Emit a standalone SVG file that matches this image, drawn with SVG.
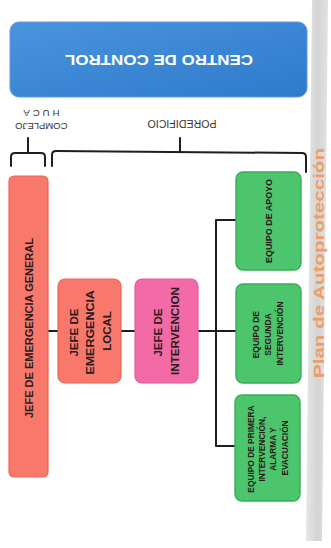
<svg xmlns="http://www.w3.org/2000/svg" width="331" height="548" viewBox="0 0 331 548">
  <style>
    .nt{font-family:"Liberation Sans",Arial,sans-serif;font-weight:bold;fill:#2b1b1b;text-anchor:middle}
    .lbl{font-family:"Liberation Sans",Arial,sans-serif;fill:#333;text-anchor:middle}
    .line{fill:none;stroke:#1e1e1e;stroke-width:2;stroke-linecap:round;stroke-linejoin:round}
    .red{fill:#f8786b;stroke:#ec6757;stroke-width:1.2}
    .pink{fill:#f26aa6;stroke:#e45b98;stroke-width:1.2}
    .green{fill:#4cc56d;stroke:#36ad56;stroke-width:1.4}
  </style>
  <defs>
    <linearGradient id="blueg" x1="0" y1="0" x2="1" y2="1">
      <stop offset="0" stop-color="#4b93dd"/>
      <stop offset="1" stop-color="#2d7bcc"/>
    </linearGradient>
    <linearGradient id="greyg" x1="0" y1="0" x2="1" y2="0">
      <stop offset="0" stop-color="#e6e6e6"/>
      <stop offset="0.5" stop-color="#d4d4d4"/>
      <stop offset="1" stop-color="#e2e2e2"/>
    </linearGradient>
  </defs>
  <rect width="331" height="548" fill="#ffffff"/>

  <g id="stripe">
    <polygon points="312,0 328,0 322,541 306,541" fill="url(#greyg)"/>
    <text transform="translate(319,263) rotate(-90)" y="5" font-family="'Liberation Sans',Arial,sans-serif" font-weight="bold" font-size="15" fill="#ef9c66" text-anchor="middle" textLength="230" lengthAdjust="spacingAndGlyphs">Plan de Autoprotección</text>
  </g>

  <g id="centro-control">
    <rect x="10" y="22" width="297" height="75" rx="9" fill="url(#blueg)" stroke="#5a9be0" stroke-width="1"/>
    <text transform="translate(159,60) rotate(180)" y="5" font-family="'Liberation Sans',Arial,sans-serif" font-weight="bold" font-size="15" fill="#ffffff" text-anchor="middle" textLength="188" lengthAdjust="spacingAndGlyphs">CENTRO DE CONTROL</text>
  </g>

  <g id="label-complejo">
    <text class="lbl" transform="translate(40,119.5) rotate(180)" font-size="9.5">
      <tspan x="0" y="-3">COMPLEJO</tspan>
      <tspan x="0" y="10" letter-spacing="3">HUCA</tspan>
    </text>
  </g>
  <g id="label-edificio">
    <text class="lbl" transform="translate(182,123) rotate(180)" y="3.5" font-size="10" textLength="69" lengthAdjust="spacingAndGlyphs">POREDIFICIO</text>
  </g>

  <g id="connectors">
    <path class="line" d="M11,166 L11,157 Q11,153 15,153 L41,153 Q45,153 45,157 L45,166 M28,153 L28,138"/>
    <path class="line" d="M52,166 L52,155 Q52,151 56,151 L302,153 Q306,153 306,157 L306,172 M180,152 L180,138"/>
    <path class="line" d="M48,331 L58,331 M121,331 L135,331 M198,331 L236,331 M216,220 L216,446 M216,220 L236,220 M216,446 L235,446"/>
  </g>

  <g id="jefe-emergencia-general">
    <rect class="red" x="9" y="176" width="39" height="301" rx="5"/>
    <text class="nt" transform="translate(28.5,328) rotate(-90)" y="4" font-size="11.5" textLength="180" lengthAdjust="spacingAndGlyphs">JEFE DE EMERGENCIA GENERAL</text>
  </g>

  <g id="jefe-emergencia-local">
    <rect class="red" x="58" y="279" width="63" height="104" rx="7"/>
    <text class="nt" transform="translate(90,331) rotate(-90)" font-size="11.5">
      <tspan x="0" y="-12.5">JEFE DE</tspan>
      <tspan x="0" y="4" textLength="84" lengthAdjust="spacingAndGlyphs">EMERGENCIA</tspan>
      <tspan x="0" y="20.5">LOCAL</tspan>
    </text>
  </g>

  <g id="jefe-intervencion">
    <rect class="pink" x="135" y="279" width="63" height="104" rx="7"/>
    <text class="nt" transform="translate(166.5,331) rotate(-90)" font-size="11.5">
      <tspan x="0" y="-4.5">JEFE DE</tspan>
      <tspan x="0" y="12.5" textLength="88" lengthAdjust="spacingAndGlyphs">INTERVENCION</tspan>
    </text>
  </g>

  <g id="equipo-apoyo">
    <rect class="green" x="236" y="172" width="65" height="98" rx="7"/>
    <text class="nt" transform="translate(269,221) rotate(-90)" y="3" font-size="8.5" textLength="84" lengthAdjust="spacingAndGlyphs">EQUIPO DE APOYO</text>
  </g>

  <g id="equipo-segunda">
    <rect class="green" x="236" y="284" width="65" height="99" rx="7"/>
    <text class="nt" transform="translate(267.5,333.5) rotate(-90)" font-size="8.5">
      <tspan x="0" y="-9">EQUIPO DE</tspan>
      <tspan x="0" y="3">SEGUNDA</tspan>
      <tspan x="0" y="15">INTERVENCIÓN</tspan>
    </text>
  </g>

  <g id="equipo-primera">
    <rect class="green" x="235" y="395" width="65" height="106" rx="7"/>
    <text class="nt" transform="translate(268,448) rotate(-90)" font-size="8.3">
      <tspan x="0" y="-14" textLength="87" lengthAdjust="spacingAndGlyphs">EQUIPO DE PRIMERA</tspan>
      <tspan x="0" y="-3">INTERVENCIÓN,</tspan>
      <tspan x="0" y="8">ALARMA Y</tspan>
      <tspan x="0" y="19.5">EVACUACIÓN</tspan>
    </text>
  </g>
</svg>
